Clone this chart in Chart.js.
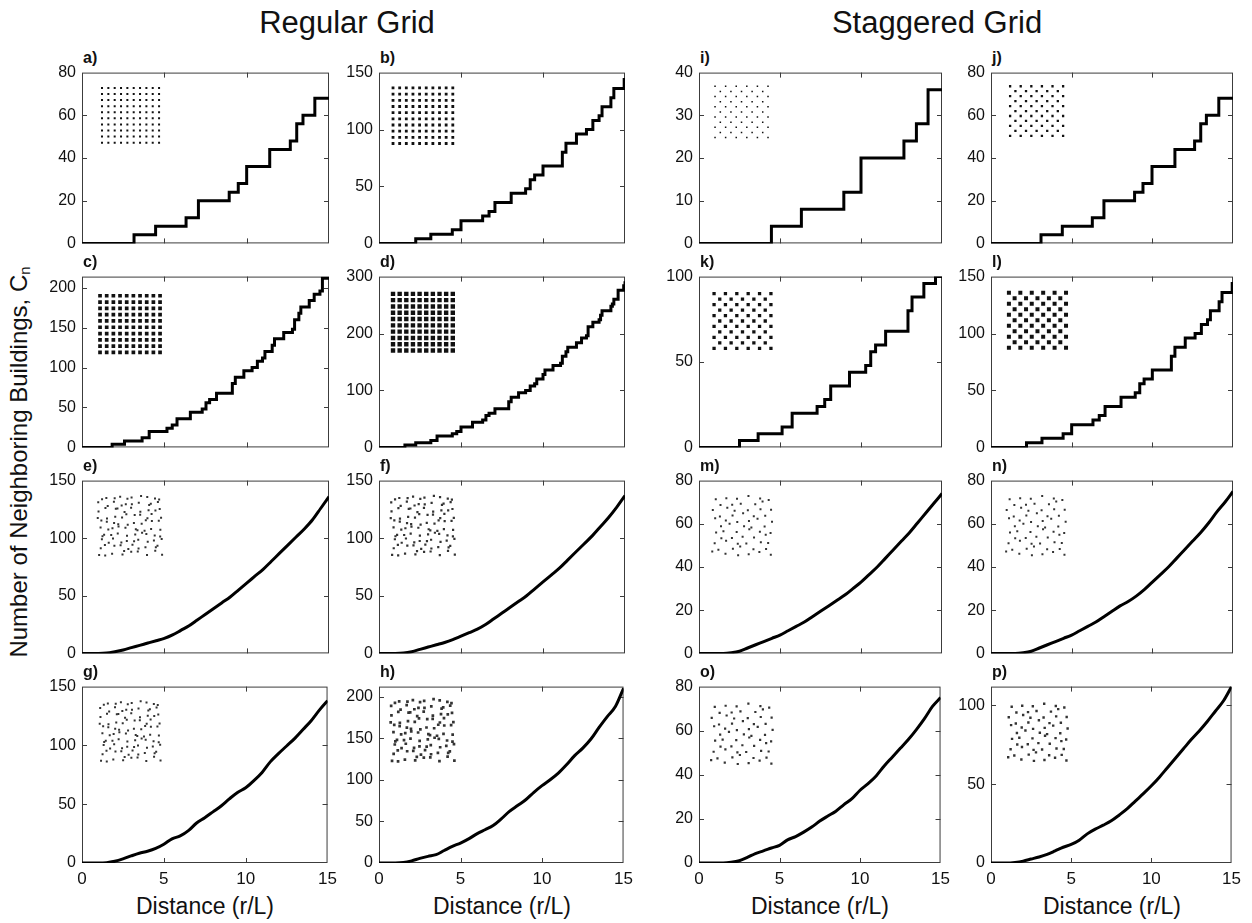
<!DOCTYPE html>
<html>
<head>
<meta charset="utf-8">
<title>Neighbouring buildings vs distance</title>
<script src="https://cdn.jsdelivr.net/npm/chart.js@4.4.1/dist/chart.umd.min.js"></script>
<style>
  body { margin: 0; background: #fff; }
  #fig { position: relative; width: 1252px; height: 923px; font-family: "Liberation Sans", Arial, sans-serif; color: #111; overflow: hidden; }
  #fig canvas { position: absolute; }
  .txt { position: absolute; white-space: nowrap; line-height: 1; }
  .head { font-size: 31px; transform: translateX(-50%); }
  .xtitle { font-size: 23px; transform: translateX(-50%); }
  .plabel { font-size: 16px; font-weight: bold; }
  .ytitle { font-size: 24px; transform: translate(-50%, -50%) rotate(-90deg); }
  .ytitle sub { font-size: 0.62em; vertical-align: -0.25em; }
</style>
</head>
<body>
<div id="fig">
  <div class="txt head" style="left:347px; top:7px;">Regular Grid</div>
  <div class="txt head" style="left:937px; top:7px;">Staggered Grid</div>
  <div class="txt ytitle" style="left:20px; top:462px;">Number of Neighboring Buildings, C<sub>n</sub></div>
  <div class="txt xtitle" style="left:205px; top:895px;">Distance (r/L)</div>
  <div class="txt xtitle" style="left:502px; top:895px;">Distance (r/L)</div>
  <div class="txt xtitle" style="left:820px; top:895px;">Distance (r/L)</div>
  <div class="txt xtitle" style="left:1112px; top:895px;">Distance (r/L)</div>
</div>

<script>
// distance axis
const distTicks = [0, 5, 10, 15];
const rSmooth = [0, 0.5, 1, 1.5, 2, 2.5, 3, 3.5, 4, 4.5, 5, 5.5, 6, 6.5, 7, 7.5,
  8, 8.5, 9, 9.5, 10, 10.5, 11, 11.5, 12, 12.5, 13, 13.5, 14, 14.5, 15];

// count axis tick sets
const ticks40 = [0, 10, 20, 30, 40];
const ticks80 = [0, 20, 40, 60, 80];
const ticks100 = [0, 50, 100];
const ticks150 = [0, 50, 100, 150];
const ticks200 = [0, 50, 100, 150, 200];
const ticks300 = [0, 100, 200, 300];

// regular grids, stepped counts (distance where the count jumps, new count)
const aR = [0, 3.16, 4.47, 6.32, 7.07, 8.94, 9.49, 10.0, 11.4, 12.65, 13.04, 13.42, 14.14, 15];
const aC = [0, 4, 8, 12, 20, 24, 28, 36, 44, 48, 56, 60, 68, 68];

const bR = [0, 2.24, 3.16, 4.47, 5.0, 6.32, 6.71, 7.07, 8.06, 8.94, 9.22, 9.49, 10.0,
  11.18, 11.4, 12.04, 12.65, 13.04, 13.42, 13.6, 14.14, 14.32, 14.95, 15];
const bC = [0, 4, 8, 12, 20, 24, 28, 36, 44, 48, 56, 60, 68,
  80, 88, 96, 100, 108, 112, 120, 128, 136, 144, 144];

const cR = [0, 1.83, 2.58, 3.65, 4.08, 5.16, 5.48, 5.77, 6.58, 7.3, 7.53, 7.75, 8.17,
  9.13, 9.31, 9.83, 10.33, 10.65, 10.96, 11.11, 11.55, 11.69, 12.25, 12.78, 12.91,
  13.17, 13.29, 13.8, 14.1, 14.45, 14.6, 15];
const cC = [0, 4, 8, 12, 20, 24, 28, 36, 44, 48, 56, 60, 68,
  80, 88, 96, 100, 108, 112, 120, 128, 136, 144, 148, 160,
  168, 176, 184, 192, 196, 212, 212];

const dR = [0, 1.58, 2.24, 3.16, 3.54, 4.47, 4.74, 5.0, 5.7, 6.32, 6.52, 6.71, 7.07,
  7.91, 8.06, 8.51, 8.94, 9.22, 9.49, 9.62, 10.0, 10.12, 10.61, 11.07, 11.18, 11.4,
  11.51, 12.04, 12.35, 12.65, 12.75, 13.04, 13.42, 13.51, 13.6, 14.14, 14.23, 14.32,
  14.58, 14.92, 15];
const dC = [0, 4, 8, 12, 20, 24, 28, 36, 44, 48, 56, 60, 68,
  80, 88, 96, 100, 108, 112, 120, 128, 136, 144, 148, 160, 168,
  176, 184, 192, 196, 212, 220, 224, 232, 240, 248, 252, 260,
  276, 284, 292];

// regular grids with displaced buildings, smooth counts on rSmooth
const eC = [0, 0, 0, 0.3, 1.5, 3, 5, 7, 9, 11, 13, 16, 20, 24, 29, 34,
  39, 44, 49, 55, 61, 67, 73, 80, 87, 94, 101, 108, 116, 126, 136];
const fC = [0, 0, 0, 0.3, 1.5, 3.5, 5.5, 7.5, 9.5, 12, 15, 18, 21, 25, 30, 35,
  40, 45, 50, 56, 62, 68, 74, 81, 88, 95, 102, 110, 118, 127, 137];
const gC = [0, 0, 0, 0.3, 1.5, 3.5, 6, 8.3, 10, 12.4, 16, 20.5, 23, 27.5, 34, 38.5,
  43.5, 48.5, 54.5, 60, 64, 70, 77, 86, 93, 99.5, 106, 113.5, 121, 130, 138];
const hC = [0, 0, 0, 0.5, 2.5, 5.5, 8, 10, 15, 20, 24, 29, 35, 40, 45, 53,
  62, 69, 76, 85, 93, 100, 108, 118, 129, 138, 149, 163, 176, 188, 210];

// staggered grids, stepped counts
const iR = [0, 4.47, 6.32, 8.94, 10.0, 12.65, 13.42, 14.14, 15];
const iC = [0, 4, 8, 12, 20, 24, 28, 36, 36];

const jR = [0, 3.1, 4.42, 6.28, 7.0, 8.9, 9.42, 9.98, 11.4, 12.62, 13.0, 13.35, 14.12, 15];
const jC = [0, 4, 8, 12, 20, 24, 28, 36, 44, 48, 56, 60, 68, 68];

const kR = [0, 2.5, 3.65, 5.13, 5.75, 7.29, 7.76, 8.13, 9.29, 10.29, 10.6, 10.9, 11.52,
  12.9, 13.15, 13.88, 14.6, 15];
const kC = [0, 4, 8, 12, 20, 24, 28, 36, 44, 48, 56, 60, 68,
  80, 88, 96, 100, 100];

const lR = [0, 2.2, 3.16, 4.47, 5.0, 6.32, 6.71, 7.07, 8.06, 8.94, 9.22, 9.49, 10.0,
  11.18, 11.4, 12.04, 12.65, 13.04, 13.42, 13.6, 14.14, 14.32, 14.95, 15];
const lC = [0, 4, 8, 12, 20, 24, 28, 36, 44, 48, 56, 60, 68,
  80, 88, 96, 100, 108, 112, 120, 128, 136, 144, 144];

// staggered grids with displaced buildings, smooth counts on rSmooth
const mC = [0, 0, 0, 0, 0.3, 1, 2.5, 4, 5.5, 7, 8.5, 10.5, 12.5, 14.5, 17, 19.5,
  22, 24.5, 27, 30, 33, 36.5, 40, 44, 48, 52, 56, 60.5, 65, 69.5, 74];
const nC = [0, 0, 0, 0, 0.3, 1, 2.5, 4, 5.5, 7, 8.5, 10.5, 12.5, 14.5, 17, 19.5,
  22, 24, 26.5, 29.5, 33, 36.5, 40, 44, 48, 52, 56, 60.5, 65.5, 70, 75];
const oC = [0, 0, 0, 0, 0.3, 1, 2.5, 4.3, 5.5, 6.8, 8, 10.5, 12, 14, 16.3, 19,
  21.3, 23.5, 26.5, 29.2, 33, 36, 39.5, 44, 48, 52, 56, 60.5, 65.5, 71, 75];
const pC = [0, 0, 0, 0.4, 1.2, 2.5, 3.8, 5.5, 7.7, 10, 11.8, 14.5, 18.5, 21.5, 24, 26.8,
  30.5, 34.5, 39.3, 44, 49, 54.5, 60.5, 66.5, 72.5, 78.5, 84, 90, 96.5, 103, 112];

// small offsets used to displace buildings in the perturbed layouts
const shift = [0.34, -0.21, 0.12, -0.38, 0.27, -0.06, 0.41, -0.3, 0.05,
  -0.15, 0.22, -0.43, 0.17, 0.31, -0.25, 0.02, -0.36, 0.09];

// plot frame placement on the page
const colLeft = [82, 379, 699, 991];
const colWidth = [247, 246, 243, 242];
const rowTop = [69, 273, 477, 683];
const rowHeight = [178, 178, 180, 180];

const panels = [
  { tag: 'a)', row: 0, col: 0, r: aR, c: aC, stepped: true, yMax: 80, yTicks: ticks80,
    inset: { kind: 'square', box: [0.081, 0.312, 0.91, 0.59], size: 2 } },
  { tag: 'b)', row: 0, col: 1, r: bR, c: bC, stepped: true, yMax: 150, yTicks: ticks150,
    inset: { kind: 'square', box: [0.057, 0.30, 0.91, 0.585], size: 2.8 } },
  { tag: 'c)', row: 1, col: 0, r: cR, c: cC, stepped: true, yMax: 214, yTicks: ticks200,
    inset: { kind: 'square', box: [0.073, 0.316, 0.888, 0.556], size: 3.7 } },
  { tag: 'd)', row: 1, col: 1, r: dR, c: dC, stepped: true, yMax: 300, yTicks: ticks300,
    inset: { kind: 'square', box: [0.057, 0.30, 0.899, 0.567], size: 4.4 } },
  { tag: 'e)', row: 2, col: 0, r: rSmooth, c: eC, stepped: false, yMax: 150, yTicks: ticks150,
    inset: { kind: 'squareShift', box: [0.073, 0.316, 0.90, 0.58], size: 2 } },
  { tag: 'f)', row: 2, col: 1, r: rSmooth, c: fC, stepped: false, yMax: 150, yTicks: ticks150,
    inset: { kind: 'squareShift', box: [0.057, 0.30, 0.90, 0.58], size: 2.2 } },
  { tag: 'g)', row: 3, col: 0, r: rSmooth, c: gC, stepped: false, yMax: 150, yTicks: ticks150,
    inset: { kind: 'squareShift', box: [0.081, 0.312, 0.905, 0.589], size: 2 } },
  { tag: 'h)', row: 3, col: 1, r: rSmooth, c: hC, stepped: false, yMax: 212, yTicks: ticks200,
    inset: { kind: 'squareShift', box: [0.057, 0.30, 0.917, 0.589], size: 2.7 } },
  { tag: 'i)', row: 0, col: 2, r: iR, c: iC, stepped: true, yMax: 40, yTicks: ticks40,
    inset: { kind: 'checker', box: [0.066, 0.284, 0.92, 0.62], size: 1.5 } },
  { tag: 'j)', row: 0, col: 3, r: jR, c: jC, stepped: true, yMax: 80, yTicks: ticks80,
    inset: { kind: 'checker', box: [0.079, 0.298, 0.92, 0.63], size: 2.3 } },
  { tag: 'k)', row: 1, col: 2, r: kR, c: kC, stepped: true, yMax: 100, yTicks: ticks100,
    inset: { kind: 'checker', box: [0.062, 0.296, 0.90, 0.58], size: 3.3 } },
  { tag: 'l)', row: 1, col: 3, r: lR, c: lC, stepped: true, yMax: 150, yTicks: ticks150,
    inset: { kind: 'checker', box: [0.074, 0.31, 0.905, 0.584], size: 4 } },
  { tag: 'm)', row: 2, col: 2, r: rSmooth, c: mC, stepped: false, yMax: 80, yTicks: ticks80,
    inset: { kind: 'checkerShift', box: [0.062, 0.292, 0.90, 0.58], size: 2 } },
  { tag: 'n)', row: 2, col: 3, r: rSmooth, c: nC, stepped: false, yMax: 80, yTicks: ticks80,
    inset: { kind: 'checkerShift', box: [0.07, 0.30, 0.90, 0.58], size: 2 } },
  { tag: 'o)', row: 3, col: 2, r: rSmooth, c: oC, stepped: false, yMax: 80, yTicks: ticks80,
    inset: { kind: 'checkerShift', box: [0.058, 0.296, 0.893, 0.573], size: 2.2 } },
  { tag: 'p)', row: 3, col: 3, r: rSmooth, c: pC, stepped: false, yMax: 112, yTicks: ticks100,
    inset: { kind: 'checkerShift', box: [0.079, 0.31, 0.893, 0.59], size: 2.4 } }
];

// building layout drawn in the upper left of each panel (0..1 units of the plot area)
function layoutPoints(inset) {
  const checker = inset.kind.startsWith('checker');
  const shifted = inset.kind.endsWith('Shift');
  const n = checker ? 11 : 10;
  const [x0, x1, y0, y1] = inset.box;
  const pts = [];
  for (let i = 0; i < n; i++) {
    for (let j = 0; j < n; j++) {
      if (checker && (i + j) % 2) continue;
      let u = i, v = j;
      if (shifted) {
        u += shift[(i * 5 + j * 7) % shift.length] * 0.9;
        v += shift[(i * 11 + j * 3 + 4) % shift.length] * 0.9;
      }
      pts.push({ x: x0 + (x1 - x0) * u / (n - 1), y: y0 + (y1 - y0) * v / (n - 1) });
    }
  }
  return pts;
}

// box with inward tick marks on all four sides
const frameTicks = {
  id: 'frameTicks',
  beforeDatasetsDraw(chart) {
    const { ctx, chartArea: a, scales: { x, y } } = chart;
    const len = 5;
    ctx.save();
    ctx.strokeStyle = '#3c3c3c';
    ctx.lineWidth = 1;
    ctx.strokeRect(a.left + 0.5, a.top + 0.5, a.right - a.left - 1, a.bottom - a.top - 1);
    ctx.beginPath();
    x.ticks.forEach(t => {
      const px = Math.round(x.getPixelForValue(t.value)) + 0.5;
      if (px < a.left + 2 || px > a.right - 2) return;
      ctx.moveTo(px, a.bottom); ctx.lineTo(px, a.bottom - len);
      ctx.moveTo(px, a.top); ctx.lineTo(px, a.top + len);
    });
    y.ticks.forEach(t => {
      const py = Math.round(y.getPixelForValue(t.value)) + 0.5;
      if (py < a.top + 2 || py > a.bottom - 2) return;
      ctx.moveTo(a.left, py); ctx.lineTo(a.left + len, py);
      ctx.moveTo(a.right, py); ctx.lineTo(a.right - len, py);
    });
    ctx.stroke();
    ctx.restore();
  }
};

const fig = document.getElementById('fig');
const tickFont = { family: '"Liberation Sans", Arial, sans-serif' };
const axisW = 56, padTop = 12, padRight = 14, xAxisH = 28;

panels.forEach(p => {
  const L = colLeft[p.col], T = rowTop[p.row];
  const W = colWidth[p.col], H = rowHeight[p.row];
  const bottomRow = p.row === 3;

  const label = document.createElement('div');
  label.className = 'txt plabel';
  label.style.left = (L + 1) + 'px';
  label.style.top = (T - 19) + 'px';
  label.textContent = p.tag;
  fig.appendChild(label);

  const canvas = document.createElement('canvas');
  canvas.width = axisW + W + padRight;
  canvas.height = padTop + H + (bottomRow ? xAxisH : padTop);
  canvas.style.left = (L - axisW) + 'px';
  canvas.style.top = (T - padTop) + 'px';
  fig.appendChild(canvas);

  new Chart(canvas.getContext('2d'), {
    type: 'scatter',
    data: {
      datasets: [
        {
          data: p.r.map((r, i) => ({ x: r, y: p.c[i] })),
          showLine: true,
          stepped: p.stepped ? 'before' : false,
          cubicInterpolationMode: 'monotone',
          borderColor: '#000',
          borderWidth: 3,
          borderJoinStyle: 'miter',
          pointRadius: 0,
          xAxisID: 'x',
          yAxisID: 'y'
        },
        {
          data: layoutPoints(p.inset),
          showLine: false,
          pointStyle: 'rect',
          pointRadius: p.inset.size / Math.SQRT2,
          backgroundColor: p.inset.kind.endsWith('Shift') ? '#333' : '#111',
          borderWidth: 0,
          xAxisID: 'ix',
          yAxisID: 'iy'
        }
      ]
    },
    options: {
      animation: false,
      responsive: false,
      devicePixelRatio: 1,
      events: [],
      layout: { padding: { top: padTop, right: padRight, left: 0, bottom: bottomRow ? 0 : padTop } },
      plugins: { legend: { display: false }, tooltip: { enabled: false } },
      scales: {
        x: {
          type: 'linear', min: 0, max: 15,
          afterBuildTicks: s => { s.ticks = distTicks.map(v => ({ value: v })); },
          ticks: { display: bottomRow, font: { ...tickFont, size: 17 }, color: '#111', padding: 6, maxRotation: 0 },
          grid: { display: false, drawTicks: false },
          border: { display: false },
          afterFit: s => { s.height = bottomRow ? xAxisH : 0; }
        },
        y: {
          type: 'linear', min: 0, max: p.yMax,
          afterBuildTicks: s => { s.ticks = p.yTicks.map(v => ({ value: v })); },
          ticks: { font: { ...tickFont, size: 16 }, color: '#111', padding: 6 },
          grid: { display: false, drawTicks: false },
          border: { display: false },
          afterFit: s => { s.width = axisW; }
        },
        ix: { type: 'linear', axis: 'x', position: 'bottom', display: false, min: 0, max: 1 },
        iy: { type: 'linear', axis: 'y', position: 'left', display: false, min: 0, max: 1 }
      }
    },
    plugins: [frameTicks]
  });
});
</script>
</body>
</html>
